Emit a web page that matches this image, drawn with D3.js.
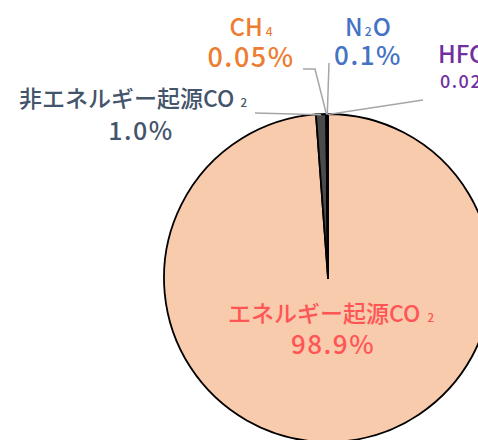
<!DOCTYPE html>
<html><head><meta charset="utf-8">
<script src="https://cdn.jsdelivr.net/npm/d3@7/dist/d3.min.js"></script>
<style>html,body{margin:0;padding:0;background:#fff;overflow:hidden}svg{display:block}</style>
</head><body><svg id="chart" width="478" height="440"></svg>
<script>
// ---- data ----
const categories = ["エネルギー起源CO₂", "非エネルギー起源CO₂", "CH₄", "N₂O", "HFCs"];
const values = [98.9, 1.0, 0.05, 0.1, 0.02];
const valueLabels = ["98.9%", "1.0%", "0.05%", "0.1%", "0.02%"];

// ---- style / layout ----
const sliceFill = ["#F8CBAD", "#4a4a4a", "#7F7F7F", "#303030", "#303030"];
const labelColor = ["#FF5555", "#44546A", "#ED7D31", "#4472C4", "#7030A0"];
const cx = 328, cy = 278, R = 164;
// label layout: x of name, x of value, baseline of name, baseline of value, anchor, font sizes, sub gap
const labelLayout = [
  {x: 331, x2: 333, y1: 322, y2: 354, anchor: "middle", f1: 23, f2: 26, gap: 7},
  {x: 133, x2: 141, y1: 107, y2: 140, anchor: "middle", f1: 23, f2: 25, gap: 6},
  {x: 251, x2: 251, y1: 36, y2: 67, anchor: "middle", f1: 24, f2: 27, gap: 3},
  {x: 368, x2: 368, y1: 36, y2: 65, anchor: "middle", f1: 24, f2: 26, gap: 2},
  {x: 438, x2: 440, y1: 63, y2: 88, anchor: "start", f1: 24, f2: 18, gap: 2}
];
// leader line start points (label side), relative to pie centre
const leaderFrom = [null, [[-73, -165]], [[-25, -209], [-13, -209]], [[1, -215]], [[95, -178]]];

const svg = d3.select("#chart");
const pie = d3.pie().sort(null).value(d => d)(values);
const arc = d3.arc().innerRadius(0).outerRadius(R);
const g = svg.append("g").attr("transform", `translate(${cx},${cy})`);

g.selectAll("path.slice").data(pie).join("path")
  .attr("class", "slice")
  .attr("d", arc)
  .attr("fill", (d, i) => sliceFill[i])
  .attr("stroke", "#000")
  .attr("stroke-width", 1.8)
  .attr("stroke-linejoin", "round");

// leader lines
pie.forEach((d, i) => {
  if (!leaderFrom[i]) return;
  const a = (d.startAngle + d.endAngle) / 2;
  const end = [Math.sin(a) * (R - 0.5), -Math.cos(a) * (R - 0.5)];
  const pts = leaderFrom[i].concat([end]);
  g.append("path")
    .attr("d", d3.line()(pts))
    .attr("fill", "none")
    .attr("stroke", "#A6A6A6")
    .attr("stroke-width", 1.5);
});

// labels with subscript handling
const subMap = {"₂": "2", "₄": "4"};
categories.forEach((name, i) => {
  const L = labelLayout[i];
  const t = svg.append("text")
    .attr("text-anchor", L.anchor)
    .attr("font-family", "'Noto Sans CJK JP','Noto Sans',sans-serif")
    .attr("font-weight", 500)
    .attr("fill", labelColor[i]);
  const line1 = t.append("tspan").attr("x", L.x).attr("y", L.y1).attr("font-size", L.f1);
  let buf = "";
  let pendingDx = 0;
  const flush = () => {
    if (buf) { line1.append("tspan").attr("dx", pendingDx).text(buf); buf = ""; pendingDx = 0; }
  };
  for (const ch of name) {
    if (subMap[ch]) {
      flush();
      line1.append("tspan").attr("font-size", L.f1 * 0.5).attr("dx", L.gap).text(subMap[ch]);
      pendingDx = L.gap * 0.6;
    } else buf += ch;
  }
  flush();
  t.append("tspan")
    .attr("x", L.x2).attr("y", L.y2)
    .attr("font-size", L.f2)
    .attr("letter-spacing", 1.5)
    .text(valueLabels[i]);
});
</script></body></html>
